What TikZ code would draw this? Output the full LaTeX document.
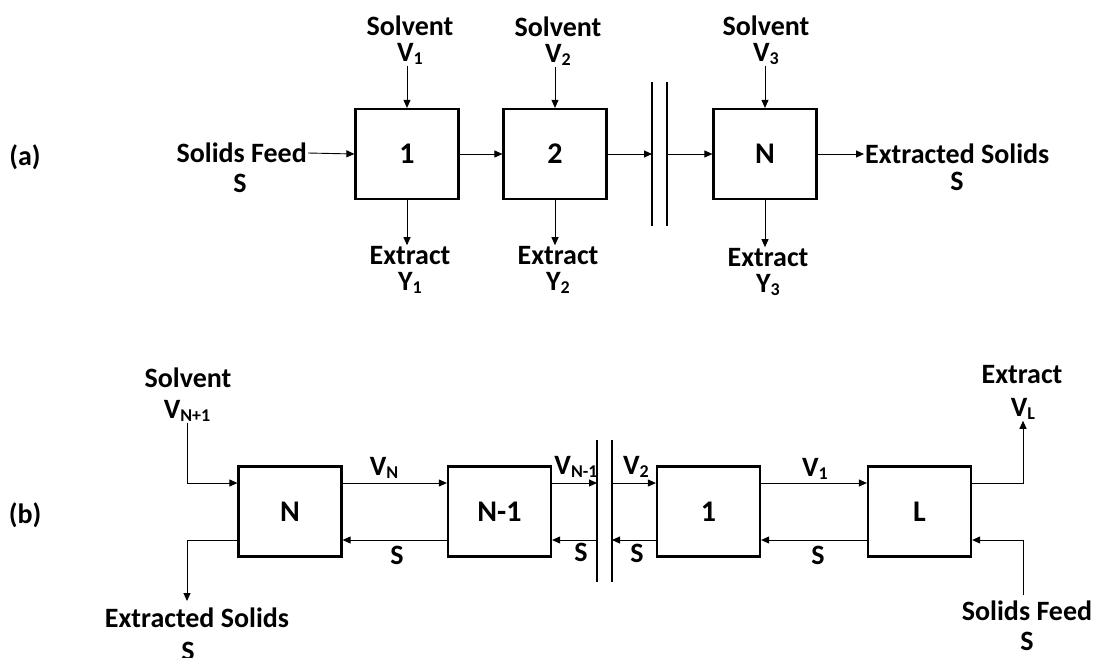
\documentclass[tikz,border=0pt]{standalone}
\usepackage{fontspec}
\setmainfont{Carlito}
\usetikzlibrary{arrows.meta}

\newcommand{\lowsub}[1]{\raisebox{-3pt}{\fontsize{18}{18}\selectfont #1}}

\tikzset{
  stage/.style={draw, line width=2.2pt, minimum width=103pt, minimum height=90pt,
    inner sep=0pt, font=\fontsize{30}{32}\selectfont\bfseries},
  lbl/.style={inner sep=1pt, font=\fontsize{28}{26}\selectfont\bfseries},
  pair/.style={lbl, align=center},
  flow/.style={line width=0.9pt, -{Triangle[length=8pt,width=7pt]}},
  bar/.style={line width=2pt}
}

\begin{document}
\begin{tikzpicture}[x=1pt,y=-1pt]

\useasboundingbox (0,0) rectangle (1093,657);

% (a) Single stage with fresh solvent
\node[lbl] (lblA) at (25,157) {(a)};

\node[stage] (a1) at (407,154) {1};
\node[stage] (a2) at (555,154) {2};
\node[stage] (aN) at (765,154) {N};

\node[lbl, anchor=east] (feedA) at (308,153) {Solids Feed};
\node[lbl] (feedAS) at (240,183) {S};

\node[pair] (solvA1) at (410,40) {Solvent\\V\lowsub{1}};
\node[pair] (solvA2) at (558,41) {Solvent\\V\lowsub{2}};
\node[pair] (solvAN) at (766,40) {Solvent\\V\lowsub{3}};

\node[pair] (extA1) at (410,270) {Extract\\Y\lowsub{1}};
\node[pair] (extA2) at (558,270) {Extract\\Y\lowsub{2}};
\node[pair] (extAN) at (768,272) {Extract\\Y\lowsub{3}};

\node[lbl, anchor=west] (outA) at (864,154) {Extracted Solids};
\node[lbl] (outAS) at (957,181) {S};

% break in the cascade
\coordinate (barA1t) at (652,82);
\coordinate (barA1b) at (652,226);
\coordinate (barA2t) at (667,82);
\coordinate (barA2b) at (667,226);
\draw[bar] (barA1t) -- (barA1b);
\draw[bar] (barA2t) -- (barA2b);

\draw[flow] (feedA.east) -- (a1.west);
\draw[flow] (a1.east) -- (a2.west);
\draw[flow] (a2.east) -- (barA1t |- a2.east);
\draw[flow] (barA2t |- aN.west) -- (aN.west);
\draw[flow] (aN.east) -- (outA.west);

\draw[flow] (a1.north |- solvA1.south) -- (a1.north);
\draw[flow] (a2.north |- solvA2.south) -- (a2.north);
\draw[flow] (aN.north |- solvAN.south) -- (aN.north);
\draw[flow] (a1.south) -- (a1.south |- extA1.north);
\draw[flow] (a2.south) -- (a2.south |- extA2.north);
\draw[flow] (aN.south) -- (aN.south |- extAN.north);

% (b) Countercurrent cascade
\node[lbl] (lblB) at (25,515) {(b)};

\node[stage] (bN) at (290,511.5) {N};
\node[stage] (bN1) at (499.5,511.5) {N-1};
\node[stage] (b1) at (708.5,511.5) {1};
\node[stage] (bL) at (919.5,511.5) {L};

% ports: upper stream (extract) and lower stream (solids)
\foreach \s in {bN,bN1,b1,bL} {
  \coordinate (\s-wu) at ([yshift=28.5pt]\s.west);
  \coordinate (\s-eu) at ([yshift=28.5pt]\s.east);
  \coordinate (\s-wl) at ([yshift=-28.5pt]\s.west);
  \coordinate (\s-el) at ([yshift=-28.5pt]\s.east);
}

\node[lbl] (solvB) at (188,378) {Solvent};
\node[lbl] (vNp1) at (187,411) {V\lowsub{N+1}};

\node[lbl] (outB) at (197,618) {Extracted Solids};
\node[lbl] (outBS) at (188,651) {S};
\coordinate (outBtip) at (187,601);

\node[lbl] (extB) at (1022,375) {Extract};
\node[lbl] (vL) at (1023,409) {V\lowsub{L}};

\node[lbl] (feedB) at (1027,611) {Solids Feed};
\node[lbl] (feedBS) at (1027,641) {S};
\coordinate (feedBtail) at (1023,595);

\node[lbl] (vN) at (384,468) {V\lowsub{N}};
\node[lbl] (vNm1) at (576,467) {V\lowsub{N-1}};
\node[lbl] (v2) at (636,467) {V\lowsub{2}};
\node[lbl] (v1) at (815,469) {V\lowsub{1}};

\node[lbl] (sB1) at (397,555) {S};
\node[lbl] (sB2) at (581,552) {S};
\node[lbl] (sB3) at (637,553) {S};
\node[lbl] (sB4) at (818,555) {S};

% break in the cascade
\coordinate (barB1t) at (597,440);
\coordinate (barB1b) at (597,582);
\coordinate (barB2t) at (612,440);
\coordinate (barB2b) at (612,582);
\draw[bar] (barB1t) -- (barB1b);
\draw[bar] (barB2t) -- (barB2b);

% extract going right
\draw[flow] (vNp1.south) |- (bN-wu);
\draw[flow] (bN-eu) -- (bN1-wu);
\draw[flow] (bN1-eu) -- (barB1t |- bN1-eu);
\draw[flow] (barB2t |- b1-wu) -- (b1-wu);
\draw[flow] (b1-eu) -- (bL-wu);
\draw[flow] (bL-eu) -| (vL.south);

% solids going left
\draw[flow] (feedBtail) |- (bL-el);
\draw[flow] (bL-wl) -- (b1-el);
\draw[flow] (b1-wl) -- (barB2t |- b1-wl);
\draw[flow] (barB1t |- bN1-el) -- (bN1-el);
\draw[flow] (bN1-wl) -- (bN-el);
\draw[flow] (bN-wl) -| (outBtip);

\end{tikzpicture}
\end{document}
